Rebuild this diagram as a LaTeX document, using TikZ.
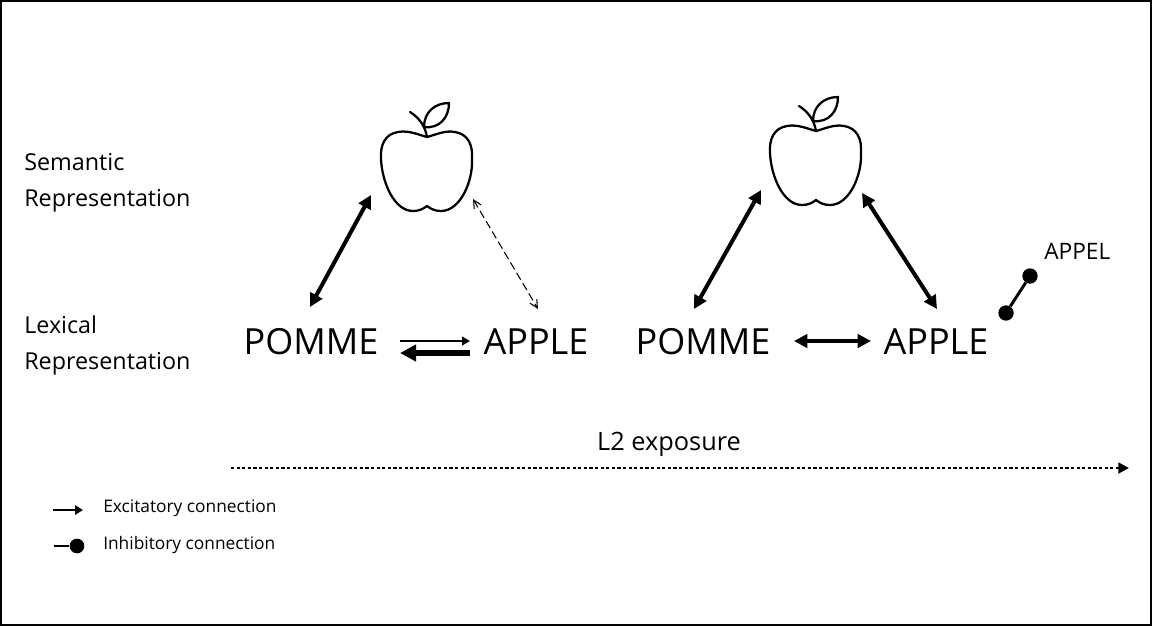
\documentclass[tikz,border=0pt]{standalone}
\usepackage{fontspec}
\setmainfont{Open Sans}
\usetikzlibrary{arrows.meta}
\tikzset{
  x=0.75pt,y=-0.75pt,
  lbl/.style={inner sep=0pt,align=left,anchor=west,font=\fontsize{17.5}{27}\selectfont},
  word/.style={inner sep=0pt,font=\fontsize{27}{32}\selectfont},
  small/.style={inner sep=0pt,anchor=west,font=\fontsize{13}{16}\selectfont},
  applepic/.style={line width=1.7pt,line join=round,line cap=round},
  thick arrow/.style={line width=3pt,{Triangle[length=10pt,width=10pt]}-{Triangle[length=10pt,width=10pt]}},
  dot/.style={circle,fill=black,inner sep=0pt,minimum size=11.5pt},
  pics/apple/.style={code={
    \draw[applepic] (0,0) .. controls (-8,-2) and (-18,-7) .. (-29,-5)
      .. controls (-42,-3) and (-47,8) .. (-46,22)
      .. controls (-45,45) and (-33,74) .. (-14,74)
      .. controls (-8,74) and (-4,72) .. (0,69)
      .. controls (4,72) and (8,74) .. (14,74)
      .. controls (33,74) and (46,45) .. (45,22)
      .. controls (46,8) and (41,-3) .. (28,-5)
      .. controls (18,-7) and (8,-2) .. (0,0) -- cycle;
    \draw[applepic] (0,0) .. controls (-2,-12) and (-9,-20) .. (-17,-25);
    \draw[applepic] (-3,-10) .. controls (-3,-25) and (8,-34) .. (22,-34)
      .. controls (22,-20) and (13,-8) .. (-3,-10) -- cycle;
  }}
}
\begin{document}
\begin{tikzpicture}
\useasboundingbox (0,0) rectangle (1152,626);
\draw[line width=0.9pt] (1,1) rectangle (1151,625);

\node[lbl] (sem) at (24,183) {Semantic\\Representation};
\node[lbl] (lex) at (24,345) {Lexical\\Representation};

\coordinate (apple1) at (427,137);
\coordinate (apple2) at (816,131);
\pic at (apple1) {apple};
\pic at (apple2) {apple};

\node[word] (pomme1) at (311,342) {POMME};
\node[word] (apple1w) at (536,342) {APPLE};
\node[word] (pomme2) at (703,342) {POMME};
\node[word] (apple2w) at (936,342) {APPLE};

\coordinate (a1l) at (371,195);
\coordinate (a1r) at (473,199);
\coordinate (a2l) at (761,190);
\coordinate (a2r) at (862,193);
\coordinate (p1t) at (310,307);
\coordinate (w1t) at (538,309);
\coordinate (p2t) at (694,309);
\coordinate (w2t) at (937,309);

\draw[thick arrow] (p1t) -- (a1l);
\draw[thick arrow] (p2t) -- (a2l);
\draw[thick arrow] (w2t) -- (a2r);
\draw[dashed,line width=0.8pt,dash pattern=on 6pt off 3pt,{Straight Barb[length=6pt,width=6pt]}-{Straight Barb[length=6pt,width=6pt]}] (a1r) -- (w1t);

\coordinate (m1a) at (400,341);
\coordinate (m1b) at (470,341);
\coordinate (m1c) at (470,353);
\coordinate (m1d) at (400,353);
\draw[line width=1.6pt,-{Triangle[length=6pt,width=6.5pt]}] (m1a) -- (m1b);
\draw[line width=3.8pt,-{Triangle[length=12pt,width=12pt]}] (m1c) -- (m1d);
\coordinate (m2a) at (794,341);
\coordinate (m2b) at (871,341);
\draw[thick arrow] (m2a) -- (m2b);

\node[small,font=\fontsize{17}{20}\selectfont] (appel) at (1044,251) {APPEL};
\node[dot] (d1) at (1030,276) {};
\node[dot] (d2) at (1006,313) {};
\draw[line width=2.2pt] (d1) -- (d2);

\node[inner sep=0pt,font=\fontsize{19}{23}\selectfont] (exp) at (669,444) {L2 exposure};
\coordinate (e1) at (231,468);
\coordinate (e2) at (1129,468);
\draw[line width=2.2pt,dash pattern=on 2.4pt off 1.8pt,-{Triangle[length=8pt,width=8pt]}] (e1) -- (e2);

\coordinate (k1) at (53,510);
\coordinate (k2) at (83,510);
\draw[line width=2.2pt,-{Triangle[length=6pt,width=7pt]}] (k1) -- (k2);
\coordinate (k3) at (54,546);
\node[dot,minimum size=11pt] (k4) at (77,546) {};
\draw[line width=2.2pt] (k3) -- (k4);
\node[small] (t1) at (103,508) {Excitatory connection};
\node[small] (t2) at (103,545) {Inhibitory connection};
\end{tikzpicture}
\end{document}
